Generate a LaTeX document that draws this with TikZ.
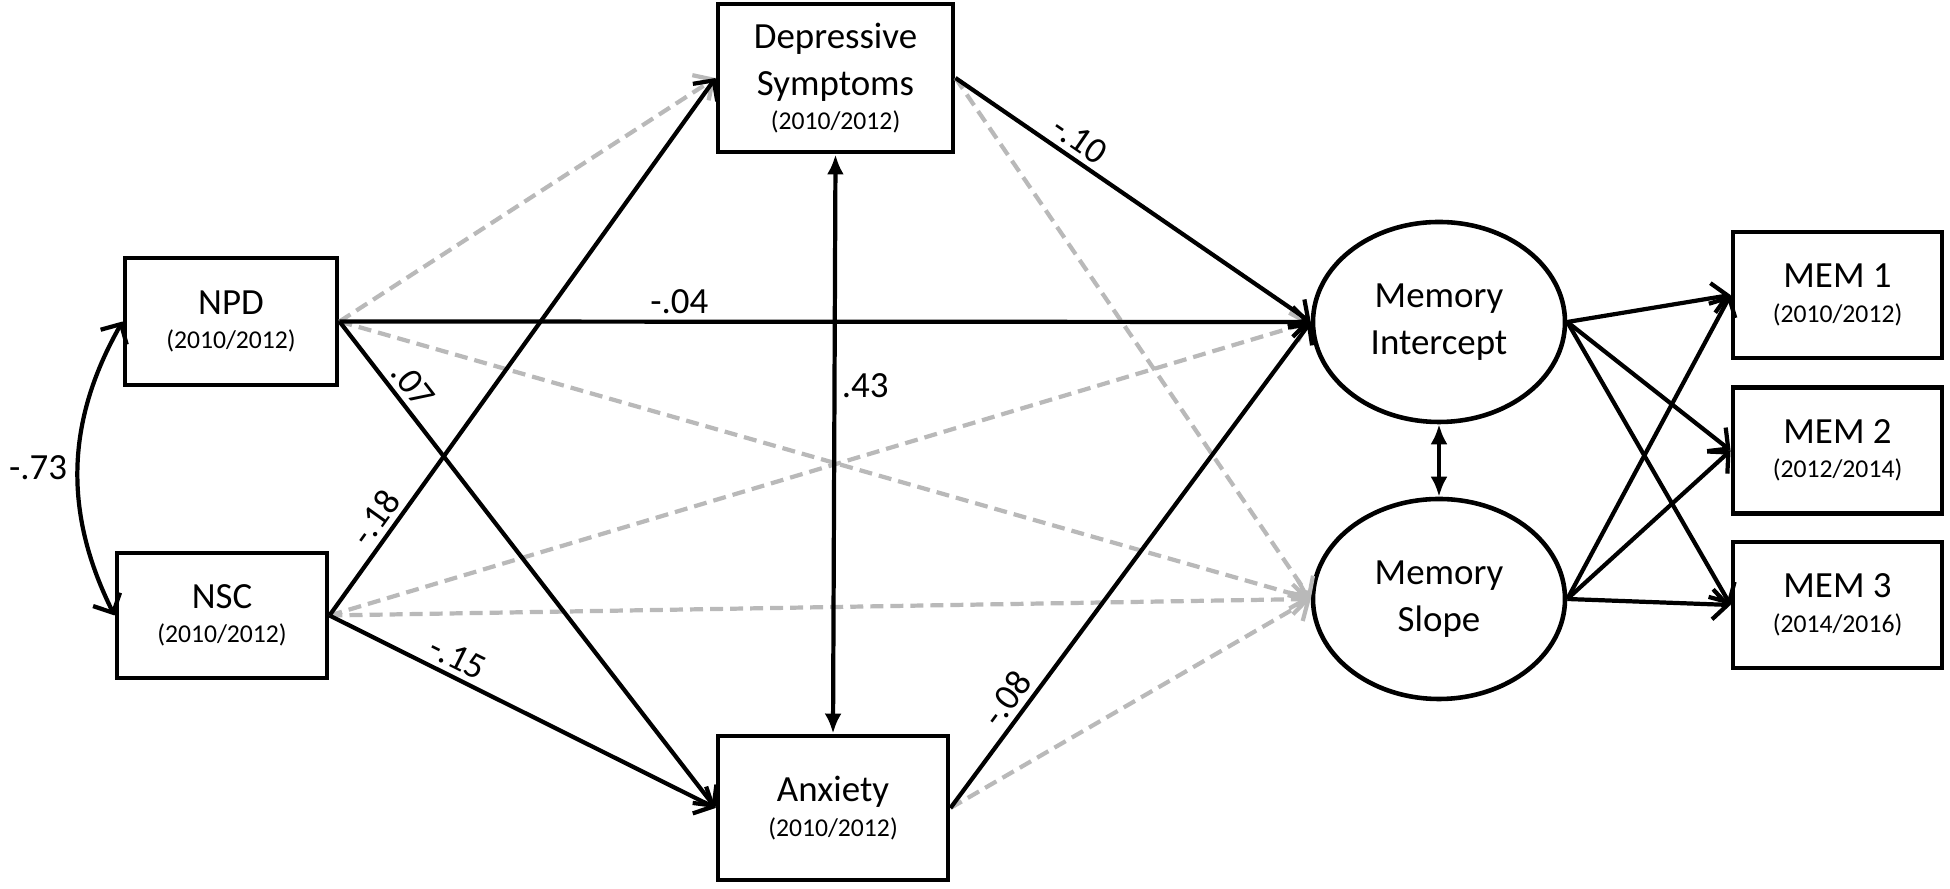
\documentclass[tikz,border=0pt]{standalone}
\usepackage{fontspec}
\setmainfont{Carlito}
\usepackage{xcolor}
\usetikzlibrary{arrows.meta,positioning,shapes.geometric}
\definecolor{nsgray}{RGB}{185,185,185}
\newcommand{\yr}[1]{{\fontsize{7.3}{13.3}\selectfont #1}}

\begin{document}
\begin{tikzpicture}[
  x=0.1mm, y=0.1mm,
  >={Straight Barb[length=1.5mm,width=3mm]},
  var/.style={rectangle,draw,line width=1.4pt,align=center,inner sep=1pt,font=\fontsize{10.5}{13.3}\selectfont},
  latent/.style={ellipse,draw,line width=1.3pt,align=center,inner sep=0pt,minimum width=25.2mm,minimum height=20mm,font=\fontsize{10.5}{13.3}\selectfont},
  sig/.style={->,line width=1.2pt},
  ns/.style={->,line width=1.2pt,nsgray,dash pattern=on 3.7pt off 2pt},
  cov/.style={{Latex[length=2mm,width=1.7mm]}-{Latex[length=2mm,width=1.7mm]},line width=1.2pt},
  coef/.style={font=\fontsize{10.5}{12}\selectfont,inner sep=1.5pt}
]
\useasboundingbox (0,0) rectangle (1950,889);

\node[var,minimum width=21.2mm,minimum height=12.7mm] (npd) at (231,567.5) {NPD\\[-3.5pt]\yr{(2010/2012)}};
\node[var,minimum width=21mm,minimum height=12.5mm] (nsc) at (222,273.5) {NSC\\[-3.5pt]\yr{(2010/2012)}};
\node[var,minimum width=23.5mm,minimum height=14.8mm] (dep) at (835.5,811) {Depressive\\Symptoms\\[-3.5pt]\yr{(2010/2012)}};
\node[var,minimum width=23mm,minimum height=14.4mm] (anx) at (833,81) {Anxiety\\[-3.5pt]\yr{(2010/2012)}};
\node[latent] (int) at (1439,567) {Memory\\Intercept};
\node[latent] (slp) at (1439,290) {Memory\\Slope};
\node[var,minimum width=20.9mm,minimum height=12.6mm] (mem1) at (1837.5,594) {MEM 1\\[-3.5pt]\yr{(2010/2012)}};
\node[var,minimum width=20.9mm,minimum height=12.6mm] (mem2) at (1837.5,438.5) {MEM 2\\[-3.5pt]\yr{(2012/2014)}};
\node[var,minimum width=20.9mm,minimum height=12.6mm] (mem3) at (1837.5,284) {MEM 3\\[-3.5pt]\yr{(2014/2016)}};

% non-significant paths
\draw[ns] (npd.east) -- (dep.west);
\draw[ns] (npd.east) -- (slp.west);
\draw[ns] (nsc.east) -- (int.west);
\draw[ns] (nsc.east) -- (slp.west);
\draw[ns] (dep.east) -- (slp.west);
\draw[ns] (anx.east) -- (slp.west);

% significant paths
\draw[sig] (npd.east) -- node[coef,above,pos=0.35]{-.04} (int.west);
\draw[sig] (npd.east) -- node[coef,above,sloped,pos=0.155]{.07} (anx.west);
\draw[sig] (nsc.east) -- node[coef,above,sloped,pos=0.16]{-.18} (dep.west);
\draw[sig] (nsc.east) -- node[coef,above,sloped,pos=0.31]{-.15} (anx.west);
\draw[sig] (dep.east) -- node[coef,above,sloped,pos=0.32]{-.10} (int.west);
\draw[sig] (anx.east) -- node[coef,above,sloped,pos=0.2]{-.08} (int.west);
\foreach \m in {mem1,mem2,mem3} {
  \draw[sig] (int.east) -- (\m.west);
  \draw[sig] (slp.east) -- (\m.west);
}

% covariances
\draw[<->,line width=1.2pt] (npd.west) to[bend right=28] node[coef,left=1pt]{-.73} (nsc.west);
\draw[cov] (dep.south) -- node[coef,right,pos=0.4]{.43} (anx.north);
\draw[cov] (int.south) -- (slp.north);
\end{tikzpicture}
\end{document}
